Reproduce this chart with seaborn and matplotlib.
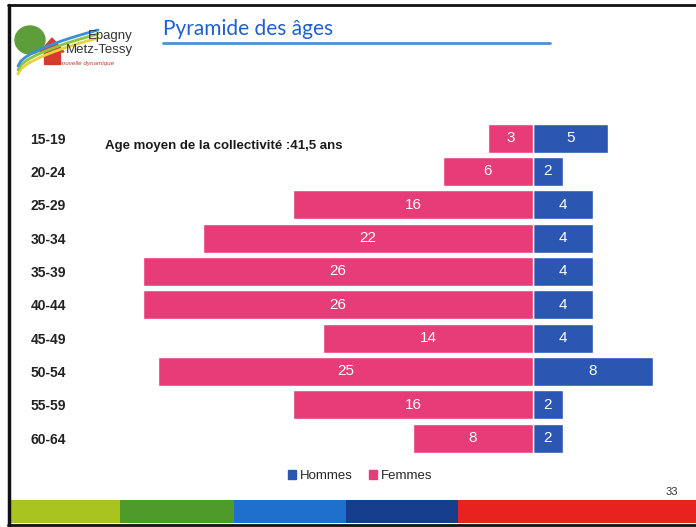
import numpy as np
import pandas as pd
import matplotlib
matplotlib.use('Agg')
import matplotlib.pyplot as plt
import matplotlib.patches as mpatches
from matplotlib.lines import Line2D
import seaborn as sns

# Données de la pyramide
tranches = ['15-19', '20-24', '25-29', '30-34', '35-39',
            '40-44', '45-49', '50-54', '55-59', '60-64']
hommes = [5, 2, 4, 4, 4, 4, 4, 8, 2, 2]
femmes = [3, 6, 16, 22, 26, 26, 14, 25, 16, 8]

couleur_h = '#2B57B2'
couleur_f = '#E83C78'

df = pd.DataFrame({
    'Tranche': tranches * 2,
    'Effectif': hommes + [-v for v in femmes],
    'Sexe': ['Hommes'] * len(tranches) + ['Femmes'] * len(tranches),
})

sns.set_style('white')
plt.rcParams['font.family'] = ['Liberation Sans', 'DejaVu Sans']

W, H = 696, 527
fig = plt.figure(figsize=(W / 100, H / 100), dpi=100)

def fx(px):
    return px / W

def fy(py):
    return 1 - py / H

# Axe principal (pixels : x 100-680, y 120-456)
ax = fig.add_axes([fx(100), fy(456), fx(580), 336 / H])
sns.barplot(data=df, y='Tranche', x='Effectif', hue='Sexe', orient='h',
            hue_order=['Hommes', 'Femmes'], order=tranches, dodge=False,
            palette={'Hommes': couleur_h, 'Femmes': couleur_f},
            width=0.87, saturation=1, legend=False, ax=ax)

ax.set_xlim(-433 / 15, 147 / 15)
ax.set_ylim(9.54, -0.54)
ax.set_xlabel('')
ax.set_ylabel('')
ax.set_xticks([])
sns.despine(ax=ax, left=True, bottom=True)
ax.tick_params(axis='y', length=0, pad=50)
for lab in ax.get_yticklabels():
    lab.set_ha('left')
    lab.set_fontweight('bold')
    lab.set_fontsize(10)
    lab.set_color('#222222')

# Étiquettes des barres
ax.bar_label(ax.containers[0], labels=[str(v) for v in hommes],
             label_type='center', color='white', fontsize=11)
ax.bar_label(ax.containers[1], labels=[str(v) for v in femmes],
             label_type='center', color='white', fontsize=11)

# Légende
handles = [mpatches.Patch(color=couleur_h, label='Hommes'),
           mpatches.Patch(color=couleur_f, label='Femmes')]
fig.legend(handles=handles, loc='center', bbox_to_anchor=(fx(360), fy(476)),
           ncol=2, frameon=False, fontsize=9.5, handlelength=0.6,
           handleheight=0.6, handletextpad=0.3, columnspacing=1.2)

# Moyenne d'âge
fig.text(fx(105), fy(146), 'Age moyen de la collectivité :41,5 ans',
         fontsize=9.5, fontweight='bold', va='center', ha='left', color='#1a1a1a')

# Titre et soulignement
fig.text(fx(163), fy(29), 'Pyramide des âges', fontsize=15, color='#1F5FCF',
         va='center', ha='left', family=['Lato', 'DejaVu Sans'])
fig.add_artist(Line2D([fx(163), fx(550)], [fy(43), fy(43)], color='#4A8FD8', lw=2))

# Logo simplifié
fig.add_artist(mpatches.Ellipse((fx(30), fy(40)), fx(30), 28 / H, color='#5E9E3A'))
fig.add_artist(mpatches.Polygon([[fx(40), fy(52)], [fx(52), fy(38)], [fx(64), fy(52)]],
                                closed=True, color='#D83A2E'))
fig.add_artist(mpatches.Rectangle((fx(44), fy(64)), fx(16), 12 / H, color='#D83A2E'))
fig.text(fx(133), fy(36), 'Epagny', fontsize=9.5, ha='right', va='center', color='#333333')
fig.text(fx(133), fy(50), 'Metz-Tessy', fontsize=9.5, ha='right', va='center', color='#333333')
fig.text(fx(80), fy(64), 'une nouvelle dynamique', fontsize=4.5, ha='center', va='center',
         color='#C0392B', style='italic')
t = np.linspace(0, 1, 30)
for dy, c in [(0, '#E8D23A'), (4, '#8CC63F'), (8, '#3A8FD8')]:
    fig.add_artist(Line2D(fx(18 + 80 * t), fy(74 - dy - 36 * t ** 0.6), color=c, lw=2))

# Cadre et bandeau inférieur
fig.add_artist(Line2D([fx(8), fx(696)], [fy(5), fy(5)], color='#111111', lw=2))
fig.add_artist(Line2D([fx(9), fx(9)], [fy(5), fy(527)], color='#111111', lw=2.5))
bandes = [(10, 120, '#A9C41E'), (120, 234, '#4E9A2A'), (234, 346, '#1F6FCC'),
          (346, 458, '#173E8C'), (458, 696, '#E8231F')]
for x0, x1, c in bandes:
    fig.add_artist(mpatches.Rectangle((fx(x0), fy(523)), fx(x1 - x0), 23 / H, color=c, lw=0))
fig.add_artist(Line2D([fx(8), fx(696)], [fy(525), fy(525)], color='#111111', lw=2))
fig.text(fx(678), fy(492), '33', fontsize=8, ha='right', va='center', color='#333333')

fig.savefig('out.png', dpi=100)
